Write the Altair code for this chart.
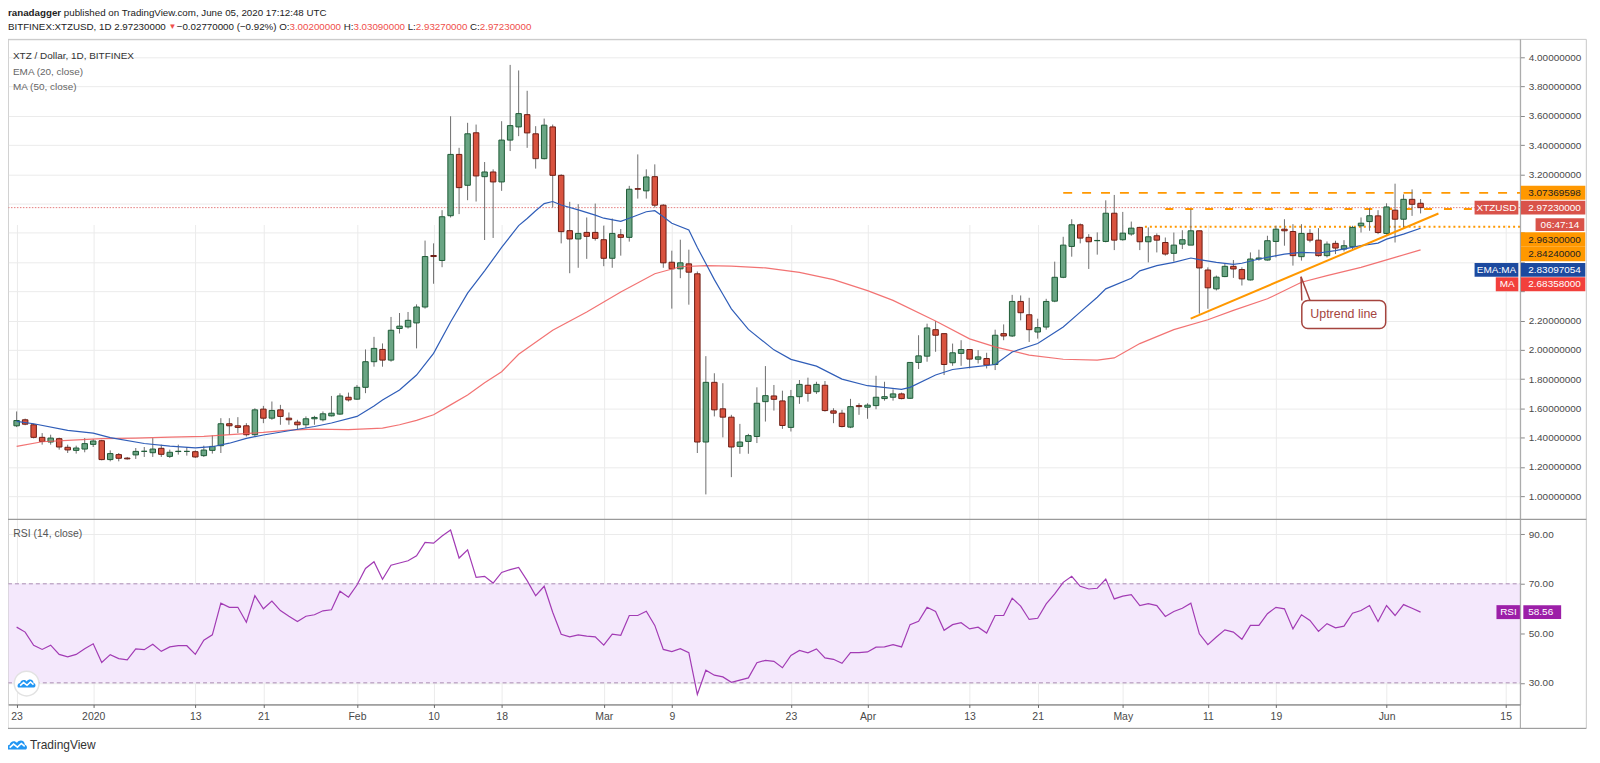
import altair as alt
import pandas as pd

# ---------------- data ----------------
START = "2019-12-23"

OPEN = [1.481,1.522,1.488,1.402,1.370,1.393,1.334,1.313,1.322,1.354,
        1.379,1.250,1.284,1.260,1.282,1.306,1.297,1.327,1.272,1.305,
        1.306,1.304,1.277,1.313,1.345,1.495,1.481,1.481,1.420,1.595,
        1.533,1.590,1.533,1.506,1.488,1.529,1.522,1.549,1.561,1.676,
        1.663,1.744,1.919,2.003,1.930,2.146,2.157,2.184,2.293,2.645,
        2.611,2.917,3.336,3.125,3.484,3.184,3.216,3.148,3.434,3.524,
        3.608,3.477,3.307,3.524,3.193,2.815,2.758,2.803,2.803,2.753,
        2.626,2.787,2.769,3.102,3.087,3.184,2.989,2.599,2.554,2.588,
        2.520,1.370,1.778,1.597,1.540,1.340,1.374,1.408,1.646,1.685,
        1.651,1.470,1.680,1.758,1.714,1.758,1.583,1.567,1.472,1.619,
        1.608,1.619,1.667,1.676,1.699,1.669,1.914,1.957,2.138,2.111,
        1.912,1.976,2.002,1.936,1.941,1.900,2.111,2.095,2.331,2.240,
        2.122,2.156,2.333,2.496,2.707,2.855,2.769,2.746,2.741,2.934,
        2.753,2.792,2.837,2.739,2.780,2.734,2.660,2.723,2.716,2.814,
        2.546,2.417,2.501,2.571,2.549,2.478,2.621,2.614,2.741,2.825,
        2.809,2.637,2.796,2.750,2.644,2.728,2.689,2.705,2.848,2.877,
        2.916,2.796,2.955,2.893,3.029,3.002]
HIGH = [1.579,1.530,1.495,1.431,1.420,1.400,1.352,1.345,1.397,1.390,
        1.385,1.313,1.295,1.268,1.329,1.336,1.397,1.352,1.318,1.352,
        1.336,1.313,1.345,1.415,1.533,1.533,1.540,1.499,1.601,1.617,
        1.647,1.624,1.572,1.522,1.545,1.549,1.579,1.685,1.703,1.708,
        1.760,2.003,2.089,2.044,2.225,2.252,2.259,2.311,2.747,2.728,
        2.955,3.597,3.381,3.552,3.540,3.284,3.234,3.563,3.948,3.910,
        3.771,3.529,3.581,3.540,3.200,3.012,2.996,2.905,3.000,2.849,
        2.898,2.826,3.121,3.336,3.234,3.268,2.996,2.678,2.753,2.685,
        2.536,1.957,1.840,1.772,1.556,1.494,1.426,1.744,1.889,1.760,
        1.721,1.726,1.794,1.810,1.782,1.787,1.601,1.590,1.665,1.635,
        1.635,1.823,1.782,1.730,1.708,1.914,2.100,2.179,2.197,2.111,
        2.043,2.066,2.002,1.998,1.980,2.138,2.174,2.376,2.372,2.356,
        2.213,2.349,2.603,2.773,2.893,2.864,2.791,2.803,3.022,3.059,
        2.943,2.877,2.841,2.837,2.796,2.768,2.802,2.818,2.961,2.814,
        2.564,2.508,2.587,2.614,2.564,2.666,2.685,2.780,2.848,2.893,
        2.859,2.859,2.825,2.832,2.741,2.746,2.750,2.848,2.905,2.968,
        2.955,3.002,3.136,3.063,3.097,3.0309]
LOW = [1.472,1.485,1.395,1.352,1.352,1.318,1.295,1.291,1.300,1.336,
       1.245,1.238,1.238,1.250,1.254,1.268,1.268,1.268,1.261,1.284,
       1.277,1.261,1.268,1.291,1.295,1.420,1.431,1.408,1.408,1.499,
       1.522,1.488,1.488,1.454,1.465,1.488,1.511,1.545,1.556,1.647,
       1.658,1.704,1.885,1.885,1.919,2.112,2.146,2.010,2.282,2.452,
       2.565,2.905,2.928,3.023,3.014,2.751,2.765,3.087,3.359,3.461,
       3.381,3.239,3.302,2.973,2.728,2.524,2.561,2.622,2.747,2.572,
       2.561,2.644,2.740,3.034,3.034,2.973,2.561,2.282,2.490,2.309,
       1.295,1.012,1.545,1.402,1.130,1.290,1.290,1.363,1.510,1.585,
       1.460,1.442,1.631,1.646,1.699,1.578,1.499,1.470,1.465,1.556,
       1.529,1.594,1.653,1.653,1.662,1.665,1.869,1.919,1.987,1.828,
       1.891,1.891,1.873,1.907,1.873,1.862,2.066,2.088,2.202,2.054,
       2.077,2.138,2.326,2.490,2.637,2.728,2.553,2.651,2.735,2.682,
       2.746,2.780,2.682,2.598,2.666,2.644,2.603,2.689,2.719,2.247,
       2.281,2.406,2.497,2.492,2.440,2.474,2.610,2.610,2.632,2.712,
       2.576,2.610,2.735,2.637,2.632,2.655,2.673,2.689,2.802,2.814,
       2.791,2.787,2.734,2.832,2.916,2.9327]
CLOSE = [1.517,1.492,1.402,1.374,1.397,1.336,1.316,1.329,1.359,1.377,
         1.250,1.291,1.259,1.255,1.306,1.307,1.322,1.286,1.300,1.307,
         1.306,1.268,1.315,1.340,1.495,1.481,1.470,1.420,1.590,1.533,
         1.586,1.545,1.522,1.488,1.529,1.538,1.563,1.567,1.685,1.658,
         1.744,1.919,2.010,1.930,2.134,2.162,2.202,2.293,2.638,2.638,
         2.910,3.336,3.109,3.477,3.189,3.216,3.148,3.434,3.533,3.615,
         3.483,3.307,3.536,3.193,2.808,2.758,2.796,2.776,2.762,2.626,
         2.796,2.769,3.098,3.098,3.182,2.989,2.595,2.554,2.595,2.531,
         1.370,1.778,1.590,1.540,1.336,1.370,1.414,1.635,1.687,1.662,
         1.483,1.680,1.764,1.703,1.764,1.585,1.567,1.476,1.612,1.612,
         1.622,1.676,1.680,1.699,1.667,1.914,1.959,2.150,2.100,1.900,
         1.980,2.002,1.937,1.952,1.896,2.100,2.095,2.331,2.254,2.138,
         2.152,2.331,2.496,2.716,2.855,2.764,2.739,2.748,2.934,2.750,
         2.798,2.832,2.739,2.773,2.750,2.655,2.716,2.753,2.814,2.560,
         2.424,2.497,2.571,2.553,2.485,2.621,2.628,2.746,2.825,2.814,
         2.644,2.796,2.750,2.644,2.723,2.696,2.712,2.837,2.866,2.917,
         2.802,2.977,2.893,3.029,2.995,2.9723]
RSI = [52.5,50.5,45.2,43.5,45.2,41.5,40.5,41.5,43.8,45.8,
       38.2,41.4,39.8,39.3,43.7,43.4,45.6,42.7,44.5,45.0,
       45.0,41.5,47.2,49.4,62.2,60.5,60.5,54.5,65.2,59.9,
       63.0,59.2,56.9,54.8,56.9,57.5,59.1,59.5,67.0,64.6,
       69.5,76.2,78.9,71.8,77.5,78.4,79.3,81.3,86.7,86.4,
       89.3,91.7,80.4,83.7,72.6,73.0,70.3,74.6,75.7,76.6,
       71.3,65.2,69.0,58.5,49.6,48.6,49.4,48.9,48.6,45.2,
       49.7,49.2,57.2,57.2,58.9,53.2,43.5,42.6,43.8,42.2,
       25.3,35.1,33.1,32.4,30.2,31.1,32.0,38.1,39.1,38.7,
       36.1,41.1,43.1,42.1,43.7,40.1,39.5,37.9,42.2,42.2,
       42.5,44.4,44.5,45.4,44.5,53.5,54.9,60.5,58.8,51.2,
       53.5,54.3,51.8,52.5,50.1,57.2,57.2,64.2,61.0,55.6,
       56.1,61.9,65.9,70.6,73.0,69.0,67.9,68.2,71.9,63.9,
       65.0,65.6,61.2,62.0,61.2,56.8,58.8,60.1,62.2,49.8,
       45.4,48.5,51.4,50.5,47.6,53.2,53.2,57.9,60.5,59.9,
       51.8,57.5,55.2,50.8,53.9,52.2,52.9,58.1,59.2,61.2,
       54.8,61.2,57.2,61.6,60.1,58.56]

EMA_DAY = [0,2,6,9,11,15,18,21,23,25,27,29,32,35,37,40,42,43,45,47,49,51,53,55,57,59,60,61,62,63,
           64,66,68,69,71,72,74,75,76,77,79,80,81,82,83,84,85,86,89,91,94,97,100,104,105,108,110,112,
           115,117,120,123,125,127,128,131,132,134,136,138,139,141,143,144,146,149,151,153,155,158,
           160,161,163,165]
EMA_VAL = [1.511,1.495,1.450,1.431,1.400,1.360,1.342,1.330,1.338,1.362,1.395,1.418,1.447,1.476,1.500,
           1.545,1.617,1.658,1.726,1.828,1.976,2.191,2.388,2.540,2.700,2.849,2.898,2.951,3.000,3.014,
           2.990,2.957,2.921,2.900,2.878,2.900,2.944,2.951,2.910,2.865,2.820,2.700,2.590,2.480,2.380,
           2.280,2.210,2.140,2.000,1.935,1.889,1.800,1.755,1.730,1.744,1.828,1.866,1.880,1.900,1.986,
           2.043,2.156,2.258,2.360,2.417,2.490,2.540,2.576,2.598,2.628,2.617,2.598,2.585,2.592,2.621,
           2.655,2.666,2.662,2.678,2.712,2.730,2.757,2.791,2.831]
MA_DAY = [0,3,6,10,14,18,22,26,29,32,35,39,43,45,47,49,51,53,55,57,59,63,67,71,75,78,81,84,88,92,
          96,100,103,108,112,115,119,123,127,129,132,136,140,143,147,151,154,158,162,165]
MA_VAL = [1.340,1.372,1.381,1.393,1.397,1.404,1.408,1.424,1.436,1.452,1.458,1.455,1.465,1.488,1.518,
          1.556,1.624,1.692,1.775,1.851,1.970,2.134,2.259,2.395,2.520,2.568,2.576,2.572,2.560,2.530,
          2.480,2.405,2.338,2.197,2.075,2.020,1.964,1.936,1.930,1.945,2.043,2.138,2.206,2.270,2.349,
          2.462,2.508,2.564,2.632,2.684]

LAST_PRICE = 2.9723
LEVEL_VAL = [3.07369598, 2.963, 2.8424]
LEVEL_FROM_DAY = [123, 135, 132.6]
TREND_DAY = [137.98, 167.1]
TREND_VAL = [2.214, 2.932]
NOTE_TEXT = "Uptrend line"
NOTE_BOX_DAY = [151.04, 160.9]
NOTE_BOX_VAL = [2.146, 2.338]
NOTE_TAIL_DAY = [150.95, 151.04, 150.95, 152.0]
NOTE_TAIL_VAL = [2.50, 2.338, 2.50, 2.338]
NOTE_TAIL_SEG = ["a", "a", "b", "b"]
RSI_BAND = [30, 70]
PRICE_TICKS = [1.0, 1.2, 1.4, 1.6, 1.8, 2.0, 2.2, 2.4, 2.6, 2.8, 3.0, 3.2, 3.4, 3.6, 3.8, 4.0]
COVERED_TICKS = [2.4, 2.6, 2.8, 3.0]   # tick labels hidden behind the price tags
RSI_TICKS = [30, 50, 70, 90]
TICK_DATES = ["2019-12-23", "2020-01-01", "2020-01-13", "2020-01-21", "2020-02-01", "2020-02-10",
              "2020-02-18", "2020-03-01", "2020-03-09", "2020-03-23", "2020-04-01", "2020-04-13",
              "2020-04-21", "2020-05-01", "2020-05-11", "2020-05-19", "2020-06-01", "2020-06-15"]
EMA_LAST = 2.83097054
MA_LAST = 2.68358
RSI_LAST = 58.56
TIMER = "06:47:14"
HEADER1 = [("ranadagger", "bold"),
           ("published on TradingView.com, June 05, 2020 17:12:48 UTC", "normal")]
# (text, colour, space after)
HEADER2 = [("BITFINEX:XTZUSD, 1D", "dark", True), ("2.97230000", "dark", True), ("▼", "red", True),
           ("−0.02770000 (−0.92%)", "dark", True), ("O:", "dark", False), ("3.00200000", "red", True),
           ("H:", "dark", False), ("3.03090000", "red", True), ("L:", "dark", False),
           ("2.93270000", "red", True), ("C:", "dark", False), ("2.97230000", "red", False)]

N = len(CLOSE)
assert len(OPEN) == N and len(HIGH) == N and len(LOW) == N and len(RSI) == N
DATES = pd.date_range(START, periods=N, freq="D").strftime("%Y-%m-%d").tolist()


def day_iso(d):
    return (pd.Timestamp(START) + pd.Timedelta(days=d)).strftime("%Y-%m-%dT%H:%M:%SZ")


def ms(ts):
    return int(pd.Timestamp(ts, tz="UTC").value // 10**6)


def day_ms(d):
    return int((pd.Timestamp(START, tz="UTC") + pd.Timedelta(days=d)).value // 10**6)


# ---------------- layout / style ----------------
W, H, PH = 1519.7, 668.3, 482.3
FONT = "Liberation Sans, Arial, sans-serif"
GRID = "#ebebeb"
GREEN, GREEN_EDGE = "#6aa584", "#1e5b36"
RED, RED_EDGE = "#d9533f", "#6d1d14"
WICK = "#6e6e6e"
EMA_C, MA_C = "#2f5db8", "#f05a5a"
ORANGE = "#ff9800"
PRICE_RED, MA_TAG, EMA_TAG = "#d9534a", "#f2403c", "#1c4a9f"
RSI_C, RSI_TAG = "#a23bb4", "#9c1fa8"
BAND, BAND_LINE = "#f4e8fc", "#a98bb3"
TXT = "#222222"
VALRED = "#ef4f4b"

# Arial / Liberation Sans advance widths (per 1000 em) for laying out text segments
_AW = {" ": 278, "!": 278, "(": 333, ")": 333, ",": 278, "-": 333, ".": 278, "/": 278, ":": 278,
       "%": 889, "−": 584, "▼": 700}
for c in "0123456789":
    _AW[c] = 556
_AW.update(dict(zip("ABCDEFGHIJKLMNOPQRSTUVWXYZ",
                    [667, 667, 722, 722, 667, 611, 778, 722, 278, 500, 667, 556, 833, 722, 778, 667,
                     778, 722, 667, 611, 722, 667, 944, 667, 667, 611])))
_AW.update(dict(zip("abcdefghijklmnopqrstuvwxyz",
                    [556, 556, 500, 556, 556, 278, 556, 556, 222, 222, 500, 222, 833, 556, 556, 556,
                     556, 333, 500, 278, 556, 500, 722, 500, 500, 500])))
_BW = {"a": 556, "d": 611, "e": 556, "g": 611, "n": 611, "r": 389}


def tw(s, size, bold=False):
    tot = 0
    for ch in s:
        tot += (_BW.get(ch) if bold and ch in _BW else _AW.get(ch, 556))
    return tot / 1000.0 * size


hide_expr = " || ".join(f"abs(datum.value - {v}) < 0.001" for v in COVERED_TICKS)
PRICE_LABEL_EXPR = f"({hide_expr}) ? '' : format(datum.value, '.8f')"

XSCALE = alt.Scale(type="utc", domain=[day_ms(-0.43), day_ms(176.14)])
XAXIS = alt.Axis(values=[ms(d) for d in TICK_DATES],
                 labelExpr="utcdate(datum.value) == 1 ? (utcmonth(datum.value) == 0 ? utcFormat(datum.value, '%Y') : utcFormat(datum.value, '%b')) : utcFormat(datum.value, '%-d')",
                 grid=True, gridColor=GRID, domainColor="#666", tickColor="#666", tickSize=3,
                 labelPadding=4, labelColor="#4a4a4a", labelFont=FONT, labelFontSize=10.5,
                 labelFlush=False, labelOverlap=False, title=None)
PSCALE = alt.Scale(domain=[0.8415, 4.1224], range=[PH, 0], nice=False, zero=False)
PAXIS = alt.Axis(orient="right", values=PRICE_TICKS, labelExpr=PRICE_LABEL_EXPR, grid=True,
                 gridColor=GRID, domain=False, tickColor="#888", tickSize=4, labelPadding=4,
                 labelColor="#4a4a4a", labelFont=FONT, labelFontSize=10, labelAlign="left",
                 labelOverlap=False, title=None)
RSCALE = alt.Scale(domain=[21.28, 96.03], range=[H, PH], nice=False, zero=False)
RAXIS = alt.Axis(orient="right", values=RSI_TICKS, format=".2f", grid=True, gridColor=GRID,
                 domain=False, tickColor="#888", tickSize=4, labelPadding=4, labelColor="#4a4a4a",
                 labelFont=FONT, labelFontSize=10, labelAlign="left", labelOverlap=False, title=None)


def X(f):
    return alt.X(f, type="temporal", scale=XSCALE, axis=XAXIS)


def PY(f):
    return alt.Y(f, type="quantitative", scale=PSCALE, axis=PAXIS)


def RY(f):
    return alt.Y(f, type="quantitative", scale=RSCALE, axis=RAXIS)


EMPTY = alt.Data(values=[{}])


def label(text, x, y, size=10, color=TXT, weight="normal", align="left"):
    return alt.Chart(EMPTY).mark_text(text=text, align=align, baseline="middle", font=FONT,
                                      fontSize=size, fontWeight=weight, color=color
                                      ).encode(x=alt.value(x), y=alt.value(y))


def hline(y, x0, x1, color, width=1.0):
    return alt.Chart(EMPTY).mark_rule(color=color, strokeWidth=width).encode(
        x=alt.value(x0), x2=alt.value(x1), y=alt.value(y))


def vline(x, y0, y1, color, width=1.0):
    return alt.Chart(EMPTY).mark_rule(color=color, strokeWidth=width).encode(
        x=alt.value(x), y=alt.value(y0), y2=alt.value(y1))


def chip(value, text, fill, tcolor, x0, x1, tx, dy, yenc, align="left", half=7.0, size=10):
    d = alt.Data(values=[{"v": value, "t": text}])
    r = alt.Chart(d).mark_rect(fill=fill, yOffset=dy - half, y2Offset=dy + half).encode(
        x=alt.value(x0), x2=alt.value(x1), y=yenc("v"), y2=alt.Y2("v"))
    t = alt.Chart(d).mark_text(align=align, baseline="middle", font=FONT, fontSize=size,
                               color=tcolor, yOffset=dy).encode(
        x=alt.value(tx), y=yenc("v"), text=alt.Text("t:N"))
    return [r, t]


# ---------------- price pane ----------------
candles = pd.DataFrame({"date": DATES, "open": OPEN, "high": HIGH, "low": LOW, "close": CLOSE})
ema_df = pd.DataFrame({"date": [day_iso(d) for d in EMA_DAY], "v": EMA_VAL})
ma_df = pd.DataFrame({"date": [day_iso(d) for d in MA_DAY], "v": MA_VAL})
up = "datum.close >= datum.open"

price_layers = []
price_layers.append(alt.Chart(pd.DataFrame({"v": [LAST_PRICE]})).mark_rule(
    color="#e06666", strokeWidth=1, strokeDash=[1.5, 1.5], opacity=0.85).encode(
    x=alt.value(0), x2=alt.value(W), y=PY("v")))

lvl_styles = [dict(strokeDash=[9, 10], strokeWidth=1.8),
              dict(strokeDash=[8, 12], strokeWidth=2),
              dict(strokeDash=[2, 3], strokeWidth=2)]
for v, d0, st in zip(LEVEL_VAL, LEVEL_FROM_DAY, lvl_styles):
    price_layers.append(alt.Chart(pd.DataFrame({"v": [v], "d": [day_iso(d0)]})).mark_rule(
        color=ORANGE, **st).encode(x=X("d"), x2=alt.value(W), y=PY("v")))

price_layers.append(alt.Chart(candles).mark_rule(color=WICK, strokeWidth=1).encode(
    x=X("date"), y=PY("low"), y2=alt.Y2("high")))
price_layers.append(alt.Chart(candles).mark_bar(size=5.5, strokeWidth=1).encode(
    x=X("date"), y=PY("open"), y2=alt.Y2("close"),
    fill=alt.condition(up, alt.value(GREEN), alt.value(RED)),
    stroke=alt.condition(up, alt.value(GREEN_EDGE), alt.value(RED_EDGE))))

price_layers.append(alt.Chart(ma_df).mark_line(color=MA_C, strokeWidth=1.2, opacity=0.85).encode(
    x=X("date"), y=PY("v")))
price_layers.append(alt.Chart(ema_df).mark_line(color=EMA_C, strokeWidth=1.2).encode(
    x=X("date"), y=PY("v")))

trend_df = pd.DataFrame({"date": [day_iso(d) for d in TREND_DAY], "v": TREND_VAL})
price_layers.append(alt.Chart(trend_df).mark_line(color=ORANGE, strokeWidth=2).encode(
    x=X("date"), y=PY("v")))

box_df = pd.DataFrame({"d0": [day_iso(NOTE_BOX_DAY[0])], "d1": [day_iso(NOTE_BOX_DAY[1])],
                       "v0": [NOTE_BOX_VAL[0]], "v1": [NOTE_BOX_VAL[1]]})
price_layers.append(alt.Chart(box_df).mark_rect(fill="white", stroke="#a5443e", strokeWidth=1.5,
                                                cornerRadius=6).encode(
    x=X("d0"), x2=alt.X2("d1"), y=PY("v0"), y2=alt.Y2("v1")))
tail_df = pd.DataFrame({"date": [day_iso(d) for d in NOTE_TAIL_DAY], "v": NOTE_TAIL_VAL,
                        "seg": NOTE_TAIL_SEG})
price_layers.append(alt.Chart(tail_df).mark_line(color="#a5443e", strokeWidth=1.5).encode(
    x=X("date"), y=PY("v"), detail="seg:N"))
note_df = pd.DataFrame({"date": [day_iso((NOTE_BOX_DAY[0] + NOTE_BOX_DAY[1]) / 2)],
                        "v": [(NOTE_BOX_VAL[0] + NOTE_BOX_VAL[1]) / 2], "t": [NOTE_TEXT]})
price_layers.append(alt.Chart(note_df).mark_text(font=FONT, fontSize=12.5, color="#a5443e",
                                                 align="center", baseline="middle").encode(
    x=X("date"), y=PY("v"), text="t:N"))

AX0, AX1, TX = W, W + 65.3, W + 8
price_layers += chip(LEVEL_VAL[0], f"{LEVEL_VAL[0]:.8f}", ORANGE, TXT, AX0, AX1, TX, 0, PY)
price_layers += chip(LAST_PRICE, f"{LAST_PRICE:.8f}", PRICE_RED, "white", AX0, AX1, TX, 0, PY)
price_layers += chip(LAST_PRICE, "XTZUSD", PRICE_RED, "white", W - 46, W - 2, W - 24, 0, PY, align="center")
price_layers += chip(LAST_PRICE, TIMER, PRICE_RED, "white", W + 15.3, W + 64.3, W + 39.8, 17.1, PY,
                     align="center", half=6.3)
price_layers += chip(LEVEL_VAL[1], f"{LEVEL_VAL[1]:.8f}", ORANGE, TXT, AX0, AX1, TX, 30.7, PY, half=7.3)
price_layers += chip(LEVEL_VAL[2], f"{LEVEL_VAL[2]:.8f}", ORANGE, TXT, AX0, AX1, TX, 27.6, PY, half=7.3)
price_layers += chip(EMA_LAST, f"{EMA_LAST:.8f}", EMA_TAG, "white", AX0, AX1, TX, 41.8, PY)
price_layers += chip(EMA_LAST, "EMA:MA", EMA_TAG, "white", W - 46, W - 2, W - 24, 41.8, PY, align="center")
price_layers += chip(MA_LAST, f"{MA_LAST:.8f}", MA_TAG, "white", AX0, AX1, TX, 34.6, PY)
price_layers += chip(MA_LAST, "MA", MA_TAG, "white", W - 24.7, W - 2, W - 13.3, 34.6, PY, align="center")

price_group = alt.layer(*price_layers)

# ---------------- RSI pane ----------------
rsi_df = pd.DataFrame({"date": DATES, "rsi": RSI})
band_df = pd.DataFrame({"lo": [RSI_BAND[0]], "hi": [RSI_BAND[1]]})
rsi_layers = [
    alt.Chart(band_df).mark_rect(fill=BAND).encode(
        x=alt.value(0), x2=alt.value(W), y=RY("lo"), y2=alt.Y2("hi")),
    alt.Chart(pd.DataFrame({"v": RSI_BAND})).mark_rule(color=BAND_LINE, strokeDash=[4, 3], strokeWidth=1).encode(
        x=alt.value(0), x2=alt.value(W), y=RY("v")),
    alt.Chart(rsi_df).mark_line(color=RSI_C, strokeWidth=1.2).encode(x=X("date"), y=RY("rsi")),
]
rsi_layers += chip(RSI_LAST, f"{RSI_LAST:.2f}", RSI_TAG, "white", W + 3, W + 41, TX, 0, RY)
rsi_layers += chip(RSI_LAST, "RSI", RSI_TAG, "white", W - 24, W, W - 12, 0, RY, align="center")
rsi_group = alt.layer(*rsi_layers)

# ---------------- frame, header, legend texts ----------------
CLOUD = "M-0.95,0.45 C-1.1,0.45 -1.1,0.0 -0.75,-0.05 C-0.7,-0.45 -0.2,-0.55 0.0,-0.25 C0.25,-0.65 0.85,-0.5 0.8,-0.05 C1.1,0.0 1.1,0.45 0.85,0.45 Z"
ZIG = "M-0.75,0.25 L-0.35,-0.12 L0.05,0.2 L0.45,-0.18 L0.8,0.12"


def icon(x, y, size):
    a = alt.Chart(EMPTY).mark_point(shape=CLOUD, filled=True, fill="#2196f3", size=size, opacity=1).encode(
        x=alt.value(x), y=alt.value(y))
    b = alt.Chart(EMPTY).mark_point(shape=ZIG, filled=False, stroke="white", strokeWidth=1.6,
                                    size=size, opacity=1).encode(x=alt.value(x), y=alt.value(y))
    return [a, b]


HS = 9.8  # header font size
decor = [
    hline(0, 0, W + 66.3, "#c8c8c8"),
    vline(0, 0, 692.3, "#c8c8c8"),
    vline(W + 66.3, 0, 692.3, "#c8c8c8"),
    hline(692.3, 0, W + 66.3, "#8a8a8a"),
    hline(PH, 0, W + 66.3, "#9a9a9a", 1.2),
    vline(W, 0, 692.3, "#a0a0a0"),
]
x = 0.0
for txt, weight in HEADER1:
    decor.append(label(txt, x, -26, HS, TXT, weight))
    x += tw(txt, HS, weight == "bold") + tw(" ", HS)
x = 0.0
for txt, col, space_after in HEADER2:
    size = 8 if txt == "▼" else HS
    decor.append(label(txt, x, -12.7, size, VALRED if col == "red" else TXT))
    x += tw(txt, size) + (tw(" ", HS) if space_after else 0.0)

decor += [
    label("XTZ / Dollar, 1D, BITFINEX", 5, 16.6, 10, "#333333"),
    label("EMA (20, close)", 5, 32.6, 10, "#666666"),
    label("MA (50, close)", 5, 48, 10, "#666666"),
    label("RSI (14, close)", 5.3, 497.3, 10.5, "#555555"),
    alt.Chart(EMPTY).mark_point(shape="circle", filled=True, fill="white", stroke="#e2e2e2",
                                strokeWidth=1.5, size=615, opacity=1).encode(
        x=alt.value(18.7), y=alt.value(647.3)),
    label("TradingView", 22, 709.3, 12, "#333333"),
]
decor += icon(18.7, 647.3, 300)
decor += icon(9, 709.3, 380)
decor_group = alt.layer(*decor)

chart = alt.layer(price_group, rsi_group, decor_group).resolve_scale(y="independent").properties(
    width=W, height=H,
    autosize=alt.AutoSizeParams(type="none"),
    padding={"left": 0, "top": 29.7, "right": 72, "bottom": 55},
).configure_view(strokeWidth=0).configure(background="white")

chart.save("out.html", embed_options={"renderer": "svg", "actions": False})
